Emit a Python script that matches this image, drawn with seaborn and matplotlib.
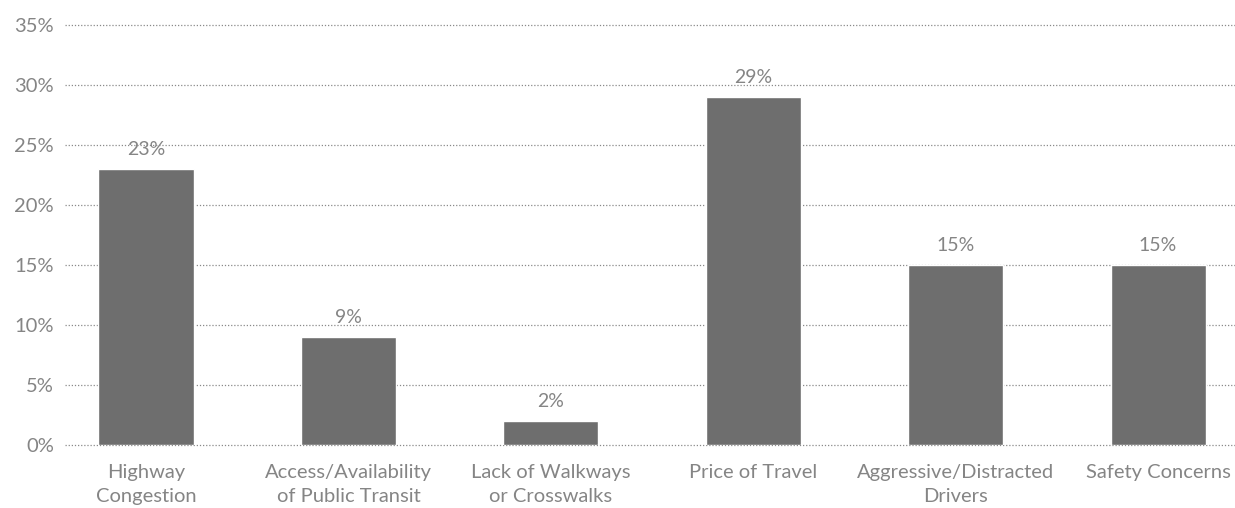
import matplotlib
matplotlib.use("Agg")
import matplotlib.pyplot as plt
import pandas as pd
import seaborn as sns

categories = [
    "Highway\nCongestion",
    "Access/Availability\nof Public Transit",
    "Lack of Walkways\nor Crosswalks",
    "Price of Travel",
    "Aggressive/Distracted\nDrivers",
    "Safety Concerns",
]
values = [23, 9, 2, 29, 15, 15]
y_ticks = [0, 5, 10, 15, 20, 25, 30, 35]

sns.set_theme(style="white")
plt.rcParams["font.family"] = ["Lato", "DejaVu Sans"]

df = pd.DataFrame({"category": categories, "value": values})

fig = plt.figure(figsize=(12.35, 5.08), dpi=100)
ax = fig.add_axes([65 / 1235, 63 / 508, 1170 / 1235, 420 / 508])

text_color = "#858585"
bar_color = "#6e6e6e"

ax.set_axisbelow(True)
for t in y_ticks:
    ax.axhline(t, color="#8a8a8a", linestyle=(0, (1, 1.5)), linewidth=0.9,
               zorder=0, clip_on=False)

sns.barplot(data=df, x="category", y="value", color=bar_color, width=0.47,
            saturation=1, ax=ax, zorder=2)

for i, v in enumerate(values):
    ax.text(i, v + 0.9, f"{v}%", ha="center", va="bottom", fontsize=14,
            color=text_color)

ax.set_xlim(-0.4, 5.38)
ax.set_ylim(0, 35)
ax.set_yticks(y_ticks)
ax.set_yticklabels([f"{t}%" for t in y_ticks])
ax.set_xlabel("")
ax.set_ylabel("")
ax.tick_params(axis="both", length=0, colors=text_color, labelsize=14.5)
ax.tick_params(axis="y", pad=8)
ax.tick_params(axis="x", pad=14)
for lbl in ax.get_xticklabels() + ax.get_yticklabels():
    lbl.set_linespacing(1.45)
for s in ax.spines.values():
    s.set_visible(False)

fig.savefig("out.png", dpi=100)
plt.close(fig)
